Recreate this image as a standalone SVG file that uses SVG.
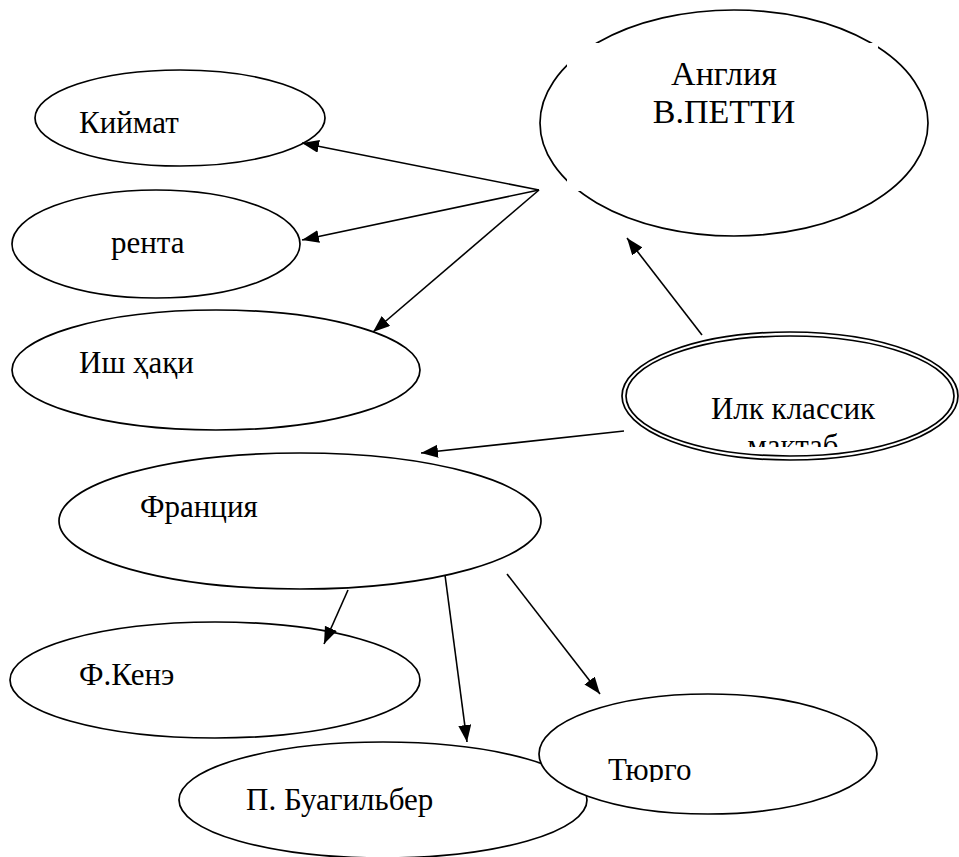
<svg xmlns="http://www.w3.org/2000/svg" width="959" height="857" viewBox="0 0 959 857">
<style>
.n{fill:none;stroke:#000;stroke-width:1.7}
.w{fill:#fff;stroke:#000;stroke-width:1.7}
.c{stroke:#000;stroke-width:1.6;fill:none;marker-end:url(#ah)}
.t{font-family:"Liberation Serif",Tinos,"Times New Roman",Times,"Noto Serif","DejaVu Serif",serif;font-size:31px;fill:#000}
</style>
<defs>
<marker id="ah" markerUnits="userSpaceOnUse" markerWidth="18" markerHeight="14" refX="17" refY="6.5" orient="auto">
<path d="M0,0 L17,6.5 L0,13 z" fill="#000"/>
</marker>
<clipPath id="clipIlk"><rect x="600" y="330" width="359" height="117"/></clipPath>
<clipPath id="clipTur"><rect x="530" y="690" width="360" height="92"/></clipPath>
</defs>
<rect width="959" height="857" fill="#fff"/>
<g id="angliya">
<ellipse class="n" cx="734" cy="123" rx="194" ry="113"/>
<rect x="567" y="43" width="311" height="148" fill="#fff"/>
<text class="t" x="724" y="85" text-anchor="middle" font-size="34" style="font-size:34px">Англия</text>
<text class="t" x="724" y="123" text-anchor="middle" style="font-size:34px">В.ПЕТТИ</text>
</g>
<g id="kiymat">
<ellipse class="n" cx="180" cy="118" rx="145" ry="48"/>
<text class="t" x="79" y="133">Киймат</text>
</g>
<g id="renta">
<ellipse class="n" cx="156" cy="244" rx="144" ry="54"/>
<text class="t" x="111" y="253">рента</text>
</g>
<g id="ish">
<ellipse class="n" cx="216" cy="370" rx="204" ry="60"/>
<text class="t" x="79" y="373">Иш ҳақи</text>
</g>
<g id="ilk">
<ellipse class="n" cx="790" cy="396" rx="168" ry="64"/>
<ellipse class="n" cx="790" cy="396" rx="164" ry="60"/>
<g clip-path="url(#clipIlk)">
<text class="t" x="793" y="419" text-anchor="middle">Илк классик</text>
<text class="t" x="793" y="456" text-anchor="middle">мактаб</text>
</g>
</g>
<g id="fransiya">
<ellipse class="n" cx="300" cy="521" rx="241" ry="68"/>
<text class="t" x="140" y="517">Франция</text>
</g>
<g id="kene">
<ellipse class="n" cx="215" cy="680" rx="205" ry="58"/>
<text class="t" x="79" y="685">Ф.Кенэ</text>
</g>
<g id="buagilber">
<ellipse class="w" cx="383" cy="800" rx="204" ry="58"/>
<text class="t" x="246" y="810">П. Буагильбер</text>
</g>
<g id="tyurgo">
<ellipse class="w" cx="708" cy="754" rx="169" ry="60"/>
<g clip-path="url(#clipTur)">
<text class="t" x="608" y="780">Тюрго</text>
</g>
</g>
<g id="connectors">
<line class="c" x1="539" y1="190" x2="302" y2="143"/>
<line class="c" x1="539" y1="190" x2="302" y2="240"/>
<line class="c" x1="539" y1="190" x2="373" y2="332"/>
<line class="c" x1="702" y1="335" x2="627" y2="238"/>
<line class="c" x1="624" y1="431" x2="421" y2="453"/>
<line class="c" x1="348" y1="590" x2="324" y2="644"/>
<line class="c" x1="445" y1="575" x2="467" y2="742"/>
<line class="c" x1="507" y1="574" x2="600" y2="694"/>
</g>
</svg>
